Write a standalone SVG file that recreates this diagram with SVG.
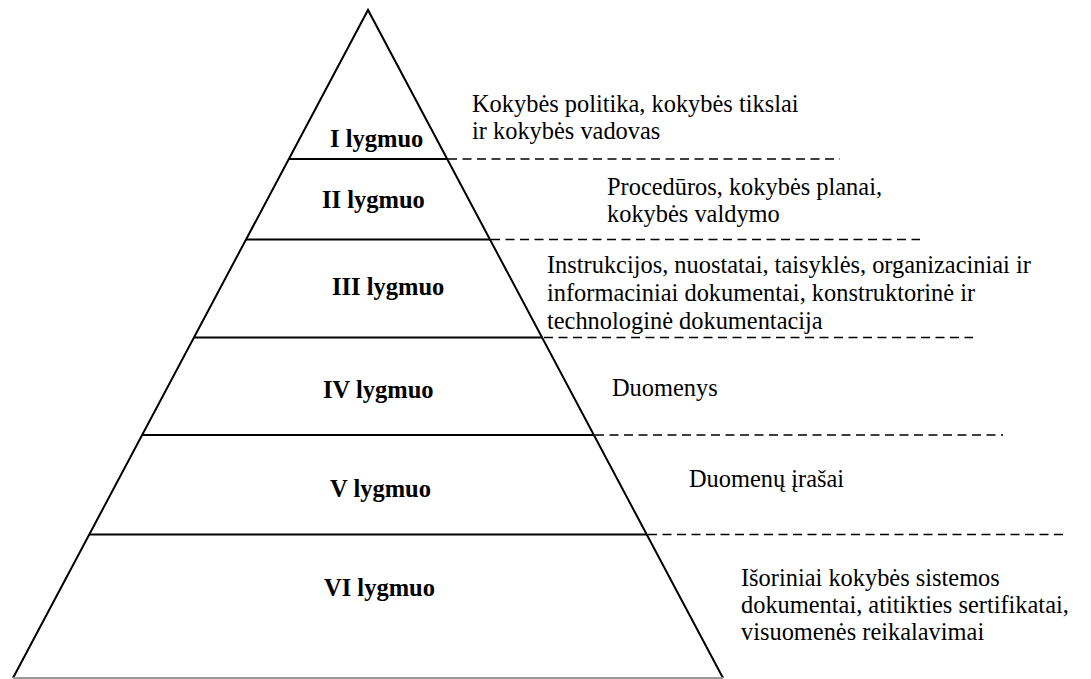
<svg xmlns="http://www.w3.org/2000/svg" width="1091" height="679" viewBox="0 0 1091 679">
  <style>
    .edge { stroke: #000; stroke-width: 2; fill: none; }
    .tier { stroke: #000; stroke-width: 2; }
    .dash { stroke: #000; stroke-width: 1.6; stroke-dasharray: 9 5.5; }
    .lvl { font-family: "Liberation Serif", "Times New Roman", serif; font-weight: bold; font-size: 24.5px; fill: #000; }
    .note { font-family: "Liberation Serif", "Times New Roman", serif; font-size: 24.4px; fill: #000; }
  </style>
  <rect width="1091" height="679" fill="#fff"/>

  <!-- pyramid outline -->
  <g id="pyramid">
    <polyline class="edge" points="13,678 368,10 723,678"/>
    <line x1="13" y1="678" x2="723" y2="678" stroke="#999" stroke-width="2"/>
  </g>

  <!-- tier dividers (solid inside, dashed to the right) -->
  <g id="connectors">
    <line class="tier" x1="289" y1="159" x2="447" y2="159"/>
    <line class="dash" x1="448" y1="159" x2="840" y2="159"/>
    <line class="tier" x1="246" y1="239.5" x2="490" y2="239.5"/>
    <line class="dash" x1="491" y1="239.5" x2="920" y2="239.5"/>
    <line class="tier" x1="194" y1="337.5" x2="543" y2="337.5"/>
    <line class="dash" x1="544" y1="337.5" x2="973" y2="337.5"/>
    <line class="tier" x1="142" y1="435" x2="594" y2="435"/>
    <line class="dash" x1="595" y1="435" x2="1003" y2="435"/>
    <line class="tier" x1="90" y1="534.5" x2="647" y2="534.5"/>
    <line class="dash" x1="648" y1="534.5" x2="1067" y2="534.5"/>
  </g>

  <g id="level-1">
    <text class="lvl" x="330" y="147">I lygmuo</text>
    <text class="note" x="472" y="112">Kokybės politika, kokybės tikslai</text>
    <text class="note" x="472" y="139">ir kokybės vadovas</text>
  </g>
  <g id="level-2">
    <text class="lvl" x="322" y="208">II lygmuo</text>
    <text class="note" x="607" y="195">Procedūros, kokybės planai,</text>
    <text class="note" x="607" y="222">kokybės valdymo</text>
  </g>
  <g id="level-3">
    <text class="lvl" x="332" y="295">III lygmuo</text>
    <text class="note" x="547" y="273">Instrukcijos, nuostatai, taisyklės, organizaciniai ir</text>
    <text class="note" x="547" y="301">informaciniai dokumentai, konstruktorinė ir</text>
    <text class="note" x="547" y="329">technologinė dokumentacija</text>
  </g>
  <g id="level-4">
    <text class="lvl" x="323" y="398">IV lygmuo</text>
    <text class="note" x="612" y="396">Duomenys</text>
  </g>
  <g id="level-5">
    <text class="lvl" x="330" y="497">V lygmuo</text>
    <text class="note" x="689" y="487">Duomenų įrašai</text>
  </g>
  <g id="level-6">
    <text class="lvl" x="324" y="596">VI lygmuo</text>
    <text class="note" x="741" y="586">Išoriniai kokybės sistemos</text>
    <text class="note" x="741" y="613">dokumentai, atitikties sertifikatai,</text>
    <text class="note" x="741" y="640">visuomenės reikalavimai</text>
  </g>
</svg>
